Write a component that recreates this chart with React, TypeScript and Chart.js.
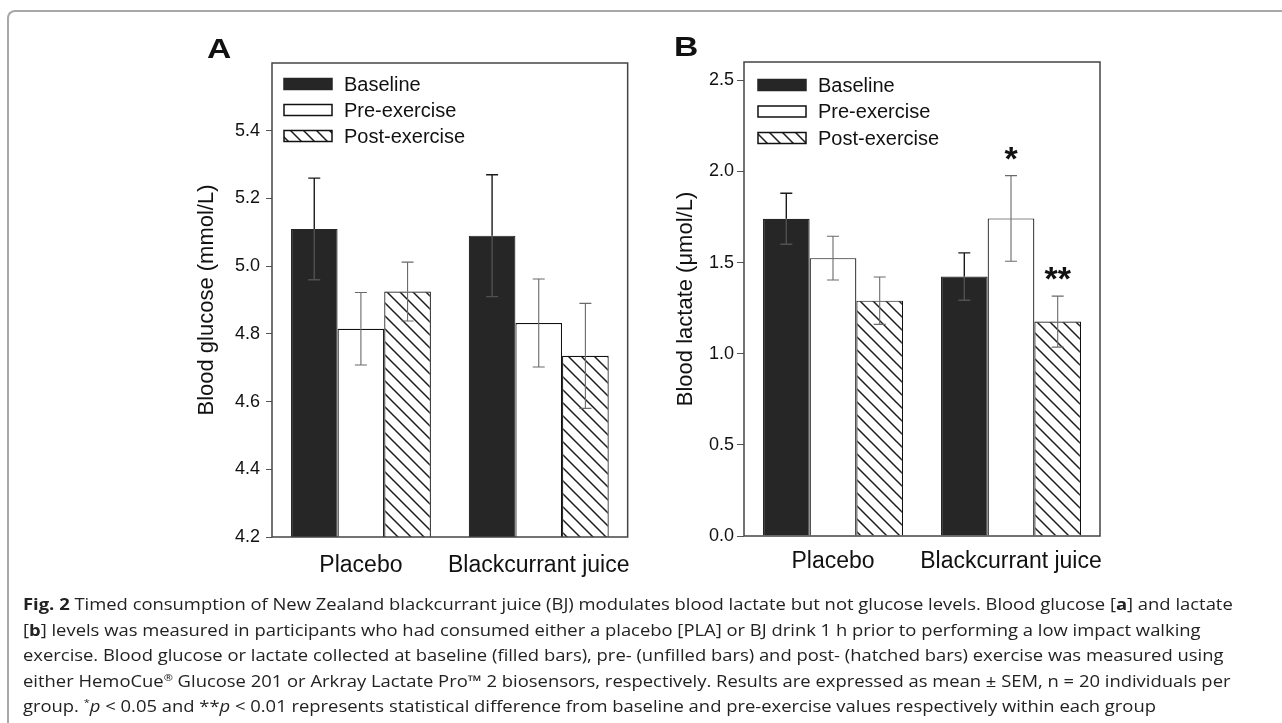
import React, { useEffect, useRef } from "react";
import { Chart, registerables } from "chart.js";

Chart.register(...registerables);

// ---------------- data ----------------
const categories = ["Placebo", "Blackcurrant juice"];
const seriesNames = ["Baseline", "Pre-exercise", "Post-exercise"];

const glucoseBaseline = [5.11, 5.09];
const glucosePre = [4.815, 4.832];
const glucosePost = [4.925, 4.735];
const glucoseBaselineErr = [0.15, 0.18];
const glucosePreErr = [0.107, 0.13];
const glucosePostErr = [0.087, 0.155];
const glucoseTicks = [4.2, 4.4, 4.6, 4.8, 5.0, 5.2, 5.4];
const glucoseMarks = [["", ""], ["", ""], ["", ""]];

const lactateBaseline = [1.74, 1.423];
const lactatePre = [1.524, 1.742];
const lactatePost = [1.291, 1.176];
const lactateBaselineErr = [0.14, 0.13];
const lactatePreErr = [0.12, 0.235];
const lactatePostErr = [0.13, 0.14];
const lactateTicks = [0.0, 0.5, 1.0, 1.5, 2.0, 2.5];
const lactateMarks = [["", ""], ["", "*"], ["", "**"]];

const FONT = "'Liberation Sans', Arial, Helvetica, sans-serif";
const TEXT = "#111";

function makeHatch(): CanvasPattern | string {
  const s = 13;
  const c = document.createElement("canvas");
  c.width = s;
  c.height = s;
  const g = c.getContext("2d");
  if (!g) return "#fff";
  g.fillStyle = "#fff";
  g.fillRect(0, 0, s, s);
  g.strokeStyle = "#1e1e1e";
  g.lineWidth = 1.5;
  g.beginPath();
  g.moveTo(-1, -1);
  g.lineTo(s + 1, s + 1);
  g.moveTo(-2, s - 2);
  g.lineTo(2, s + 2);
  g.moveTo(s - 2, -2);
  g.lineTo(s + 2, 2);
  g.stroke();
  return g.createPattern(c, "repeat") || "#fff";
}

const framePlugin = {
  id: "frame",
  afterDraw(chart: any) {
    const { ctx, chartArea: a } = chart;
    ctx.save();
    ctx.strokeStyle = "#444";
    ctx.lineWidth = 1.5;
    ctx.strokeRect(a.left, a.top, a.right - a.left, a.bottom - a.top);
    ctx.restore();
  },
};

const errorPlugin = {
  id: "errbars",
  afterDatasetsDraw(chart: any) {
    const { ctx } = chart;
    const ys = chart.scales.y;
    chart.data.datasets.forEach((ds: any, i: number) => {
      const meta = chart.getDatasetMeta(i);
      meta.data.forEach((el: any, j: number) => {
        const v = ds.data[j];
        const e = ds.errors[j];
        const x = el.x;
        const yv = ys.getPixelForValue(v);
        const yh = ys.getPixelForValue(v + e);
        const yl = ys.getPixelForValue(v - e);
        const cap = 6;
        ctx.save();
        ctx.lineWidth = ds.errWidth;
        ctx.strokeStyle = ds.errOut;
        ctx.beginPath();
        ctx.moveTo(x, yv);
        ctx.lineTo(x, yh);
        ctx.moveTo(x - cap, yh);
        ctx.lineTo(x + cap, yh);
        ctx.stroke();
        ctx.strokeStyle = ds.errIn;
        ctx.beginPath();
        ctx.moveTo(x, yv);
        ctx.lineTo(x, yl);
        ctx.moveTo(x - cap, yl);
        ctx.lineTo(x + cap, yl);
        ctx.stroke();
        const mark = ds.marks[j];
        if (mark) {
          ctx.fillStyle = TEXT;
          ctx.font = `bold 34px ${FONT}`;
          ctx.textAlign = "center";
          ctx.textBaseline = "alphabetic";
          ctx.fillText(mark, x, yh - 6);
        }
        ctx.restore();
      });
    });
  },
};

const legendPlugin = {
  id: "insideLegend",
  afterDraw(chart: any, _args: any, opts: any) {
    const { ctx, chartArea: a } = chart;
    const sx = a.left + opts.dx;
    const sw = 48;
    const sh = 11;
    chart.data.datasets.forEach((ds: any, i: number) => {
      const cy = a.top + opts.dy + i * opts.step;
      ctx.save();
      ctx.fillStyle = ds.backgroundColor;
      ctx.fillRect(sx, cy - sh / 2, sw, sh);
      ctx.strokeStyle = ds.borderColor;
      ctx.lineWidth = 1.5;
      ctx.strokeRect(sx, cy - sh / 2, sw, sh);
      ctx.fillStyle = TEXT;
      ctx.font = `20px ${FONT}`;
      ctx.textAlign = "left";
      ctx.textBaseline = "middle";
      ctx.fillText(ds.label, sx + sw + 12, cy + 1);
      ctx.restore();
    });
  },
};

const panelLabelPlugin = {
  id: "panelLabel",
  afterDraw(chart: any, _args: any, opts: any) {
    const { ctx } = chart;
    ctx.save();
    ctx.translate(opts.x, opts.y);
    ctx.scale(1.2, 1);
    ctx.fillStyle = TEXT;
    ctx.font = `bold 28px ${FONT}`;
    ctx.textAlign = "left";
    ctx.textBaseline = "alphabetic";
    ctx.fillText(opts.text, 0, 0);
    ctx.restore();
  },
};

type PanelCfg = {
  left: number;
  width: number;
  height: number;
  values: number[][];
  errors: number[][];
  marks: string[][];
  min: number;
  max: number;
  ticks: number[];
  yTitle: string;
  yWidth: number;
  titlePad: number;
  tickLen: number;
  tickPad: number;
  xPad: number;
  padTop: number;
  padRight: number;
  xHeight: number;
  legendDx: number;
  legendDy: number;
  legendStep: number;
  label: string;
  labelX: number;
  labelY: number;
};

function Panel({ cfg }: { cfg: PanelCfg }) {
  const ref = useRef<HTMLCanvasElement>(null);
  useEffect(() => {
    if (!ref.current) return;
    const hatch = makeHatch();
    const fills: any[] = ["#262626", "#ffffff", hatch];
    const borders = ["#262626", "#111", "#111"];
    const errOut = ["#1a1a1a", "#6a6a6a", "#6a6a6a"];
    const errIn = ["#505050", "#6a6a6a", "#6a6a6a"];
    const errW = [1.4, 1.1, 1.1];
    const datasets = seriesNames.map((name, i) => ({
      label: name,
      data: cfg.values[i],
      errors: cfg.errors[i],
      marks: cfg.marks[i],
      backgroundColor: fills[i],
      borderColor: borders[i],
      borderWidth: 1.2,
      borderSkipped: "start",
      errOut: errOut[i],
      errIn: errIn[i],
      errWidth: errW[i],
      categoryPercentage: 0.787,
      barPercentage: 1.0,
    }));
    const chart = new Chart(ref.current, {
      type: "bar",
      data: { labels: categories, datasets: datasets as any },
      options: {
        animation: false,
        responsive: false,
        maintainAspectRatio: false,
        layout: { padding: { top: cfg.padTop, right: cfg.padRight, left: 0, bottom: 0 } },
        plugins: {
          legend: { display: false },
          tooltip: { enabled: false },
          insideLegend: { dx: cfg.legendDx, dy: cfg.legendDy, step: cfg.legendStep },
          panelLabel: { text: cfg.label, x: cfg.labelX, y: cfg.labelY },
        } as any,
        scales: {
          x: {
            offset: true,
            afterFit: (s: any) => {
              s.height = cfg.xHeight;
            },
            grid: { display: false, drawTicks: false },
            border: { display: false },
            ticks: {
              color: TEXT,
              font: { family: FONT, size: 23 },
              padding: cfg.xPad,
              maxRotation: 0,
              autoSkip: false,
            },
          },
          y: {
            min: cfg.min,
            max: cfg.max,
            afterBuildTicks: (s: any) => {
              s.ticks = cfg.ticks.map((v) => ({ value: v }));
            },
            afterFit: (s: any) => {
              s.width = cfg.yWidth;
            },
            grid: {
              drawOnChartArea: false,
              drawTicks: true,
              tickLength: cfg.tickLen,
              color: "#555",
              lineWidth: 1,
            },
            border: { display: false },
            ticks: {
              color: TEXT,
              font: { family: FONT, size: 18 },
              padding: cfg.tickPad,
              callback: (v: any) => Number(v).toFixed(1),
            },
            title: {
              display: true,
              text: cfg.yTitle,
              color: TEXT,
              font: { family: FONT, size: 22 },
              padding: { top: cfg.titlePad, bottom: 0 },
            },
          },
        },
      },
      plugins: [errorPlugin, framePlugin, legendPlugin, panelLabelPlugin],
    });
    return () => chart.destroy();
  }, []);
  return (
    <canvas
      ref={ref}
      width={cfg.width}
      height={cfg.height}
      style={{ position: "absolute", left: cfg.left, top: 0, width: cfg.width, height: cfg.height }}
    />
  );
}

const panelA: PanelCfg = {
  left: 160,
  width: 490,
  height: 600,
  values: [glucoseBaseline, glucosePre, glucosePost],
  errors: [glucoseBaselineErr, glucosePreErr, glucosePostErr],
  marks: glucoseMarks,
  min: 4.2,
  max: 5.6,
  ticks: glucoseTicks,
  yTitle: "Blood glucose (mmol/L)",
  yWidth: 112,
  titlePad: 34,
  tickLen: 6,
  tickPad: 6,
  xPad: 15,
  padTop: 63,
  padRight: 22,
  xHeight: 63,
  legendDx: 12,
  legendDy: 21,
  legendStep: 26,
  label: "A",
  labelX: 47,
  labelY: 58,
};

const panelB: PanelCfg = {
  left: 650,
  width: 470,
  height: 600,
  values: [lactateBaseline, lactatePre, lactatePost],
  errors: [lactateBaselineErr, lactatePreErr, lactatePostErr],
  marks: lactateMarks,
  min: 0,
  max: 2.6,
  ticks: lactateTicks,
  yTitle: "Blood lactate (\u03bcmol/L)",
  yWidth: 94,
  titlePad: 23,
  tickLen: 7,
  tickPad: 3,
  xPad: 12,
  padTop: 62,
  padRight: 20,
  xHeight: 64,
  legendDx: 14,
  legendDy: 23,
  legendStep: 26.5,
  label: "B",
  labelX: 24,
  labelY: 56,
};

const captionLines: React.ReactNode[] = [
  <>
    <b>Fig. 2</b> Timed consumption of New Zealand blackcurrant juice (BJ) modulates blood lactate but not glucose levels. Blood glucose [<b>a</b>] and lactate
  </>,
  <>
    [<b>b</b>] levels was measured in participants who had consumed either a placebo [PLA] or BJ drink 1 h prior to performing a low impact walking
  </>,
  <>
    exercise. Blood glucose or lactate collected at baseline (filled bars), pre- (unfilled bars) and post- (hatched bars) exercise was measured using
  </>,
  <>
    either HemoCue<sup style={{ fontSize: "0.6em", lineHeight: 0 }}>®</sup> Glucose 201 or Arkray Lactate Pro™ 2 biosensors, respectively. Results are expressed as mean ± SEM, n = 20 individuals per
  </>,
  <>
    group. <sup style={{ fontSize: "0.6em", lineHeight: 0 }}>*</sup>
    <i>p</i> &lt; 0.05 and **<i>p</i> &lt; 0.01 represents statistical difference from baseline and pre-exercise values respectively within each group
  </>,
];

export default function App() {
  return (
    <div
      style={{
        position: "absolute",
        left: 0,
        top: 0,
        width: 1282,
        height: 723,
        background: "#fff",
        overflow: "hidden",
      }}
    >
      <div
        style={{
          position: "absolute",
          left: 7,
          top: 10,
          width: 1300,
          height: 800,
          borderLeft: "2px solid #a8a8a8",
          borderTop: "2px solid #a8a8a8",
          borderTopLeftRadius: 8,
        }}
      />
      <Panel cfg={panelA} />
      <Panel cfg={panelB} />
      <div
        style={{
          position: "absolute",
          left: 23,
          top: 592,
          fontFamily: "'Open Sans', 'Noto Sans', sans-serif",
          fontSize: 16,
          lineHeight: "25.6px",
          color: "#222",
          whiteSpace: "nowrap",
          transform: "scaleX(1.15)",
          transformOrigin: "0 0",
        }}
      >
        {captionLines.map((l, i) => (
          <div key={i} style={{ height: 25.6, lineHeight: "25.6px" }}>
            {l}
          </div>
        ))}
      </div>
    </div>
  );
}
